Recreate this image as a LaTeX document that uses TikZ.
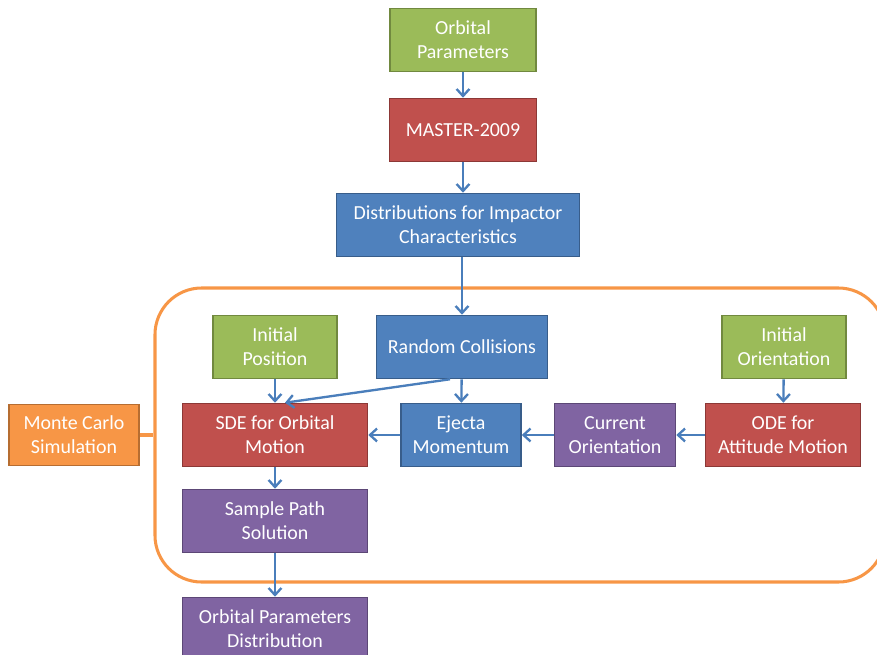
\documentclass[tikz,border=0pt]{standalone}
\usepackage{fontspec}
\setmainfont{Carlito}
\usetikzlibrary{shapes,arrows,arrows.meta,positioning,calc}

\definecolor{grnfill}{HTML}{9BBB59}
\definecolor{grnline}{HTML}{71893F}
\definecolor{redfill}{HTML}{C0504D}
\definecolor{redline}{HTML}{8C3836}
\definecolor{bluefill}{HTML}{4F81BD}
\definecolor{blueline}{HTML}{385D8A}
\definecolor{purpfill}{HTML}{8064A2}
\definecolor{purpline}{HTML}{5C4776}
\definecolor{orgfill}{HTML}{F79646}
\definecolor{orgline}{HTML}{B66D31}
\definecolor{linkblue}{HTML}{4A7EBB}

\begin{document}
\begin{tikzpicture}[x=0.03cm,y=-0.03cm,
    >={Straight Barb[length=6pt,width=11pt]},
    box/.style={rectangle,draw,line width=1.3pt,text=white,align=center,
        minimum height=1.89cm,inner sep=2pt,font=\fontsize{17}{20.5}\selectfont},
    greenbox/.style={box,fill=grnfill,draw=grnline},
    redbox/.style={box,fill=redfill,draw=redline},
    bluebox/.style={box,fill=bluefill,draw=blueline},
    purpbox/.style={box,fill=purpfill,draw=purpline},
    orgbox/.style={box,fill=orgfill,draw=orgline},
    link/.style={->,line width=2pt,draw=linkblue}]
    \useasboundingbox (0,0) rectangle (877,655);
    \clip (0,0) rectangle (877,655);

    % Monte Carlo frame
    \node[draw=orgfill,line width=2.6pt,rounded corners=1.4cm,
        minimum width=21.9cm,minimum height=8.82cm] (frame) at (520,435) {};
    \node[orgbox,minimum width=3.9cm,minimum height=1.83cm] (mc) at (74,435) {Monte Carlo\\Simulation};
    \draw[orgfill,line width=2.6pt] (mc.east) -- (frame.west);

    % Top chain
    \node[greenbox,minimum width=4.38cm] (orbpar) at (463,40) {Orbital\\Parameters};
    \node[redbox,minimum width=4.41cm] (master) at (463,130) {MASTER-2009};
    \node[bluebox,minimum width=7.29cm] (distr) at (458,225) {Distributions for Impactor\\Characteristics};

    % Inside the frame
    \node[bluebox,minimum width=5.13cm] (rand) at (462,347) {Random Collisions};
    \node[greenbox,minimum width=3.72cm] (inipos) at (275,347) {Initial\\Position};
    \node[greenbox,minimum width=3.72cm] (iniori) at (784,347) {Initial\\Orientation};
    \node[redbox,minimum width=5.55cm] (sde) at (275,435) {SDE for Orbital\\Motion};
    \node[bluebox,minimum width=3.6cm] (ejecta) at (461,435) {Ejecta\\Momentum};
    \node[purpbox,minimum width=3.63cm] (curori) at (615,435) {Current\\Orientation};
    \node[redbox,minimum width=4.65cm] (ode) at (783,435) {ODE for\\Attitude Motion};
    \node[purpbox,minimum width=5.55cm] (sample) at (275,521) {Sample Path\\Solution};

    % Output
    \node[purpbox,minimum width=5.55cm] (orbdist) at (275,629) {Orbital Parameters\\Distribution};

    % Arrows
    \draw[link] (orbpar) -- (master);
    \draw[link] (master) -- (master |- distr.north);
    \draw[link] (distr.south -| rand.north) -- (rand);
    \draw[link] (rand) -- (ejecta);
    \draw[link] ([xshift=-0.36cm]rand.south) -- ([xshift=0.3cm]sde.north);
    \draw[link] (inipos) -- (sde);
    \draw[link] (iniori) -- (ode);
    \draw[link] (ode) -- (curori);
    \draw[link] (curori) -- (ejecta);
    \draw[link] (ejecta) -- (sde);
    \draw[link] (sde) -- (sample);
    \draw[link] (sample) -- (orbdist);
\end{tikzpicture}
\end{document}
